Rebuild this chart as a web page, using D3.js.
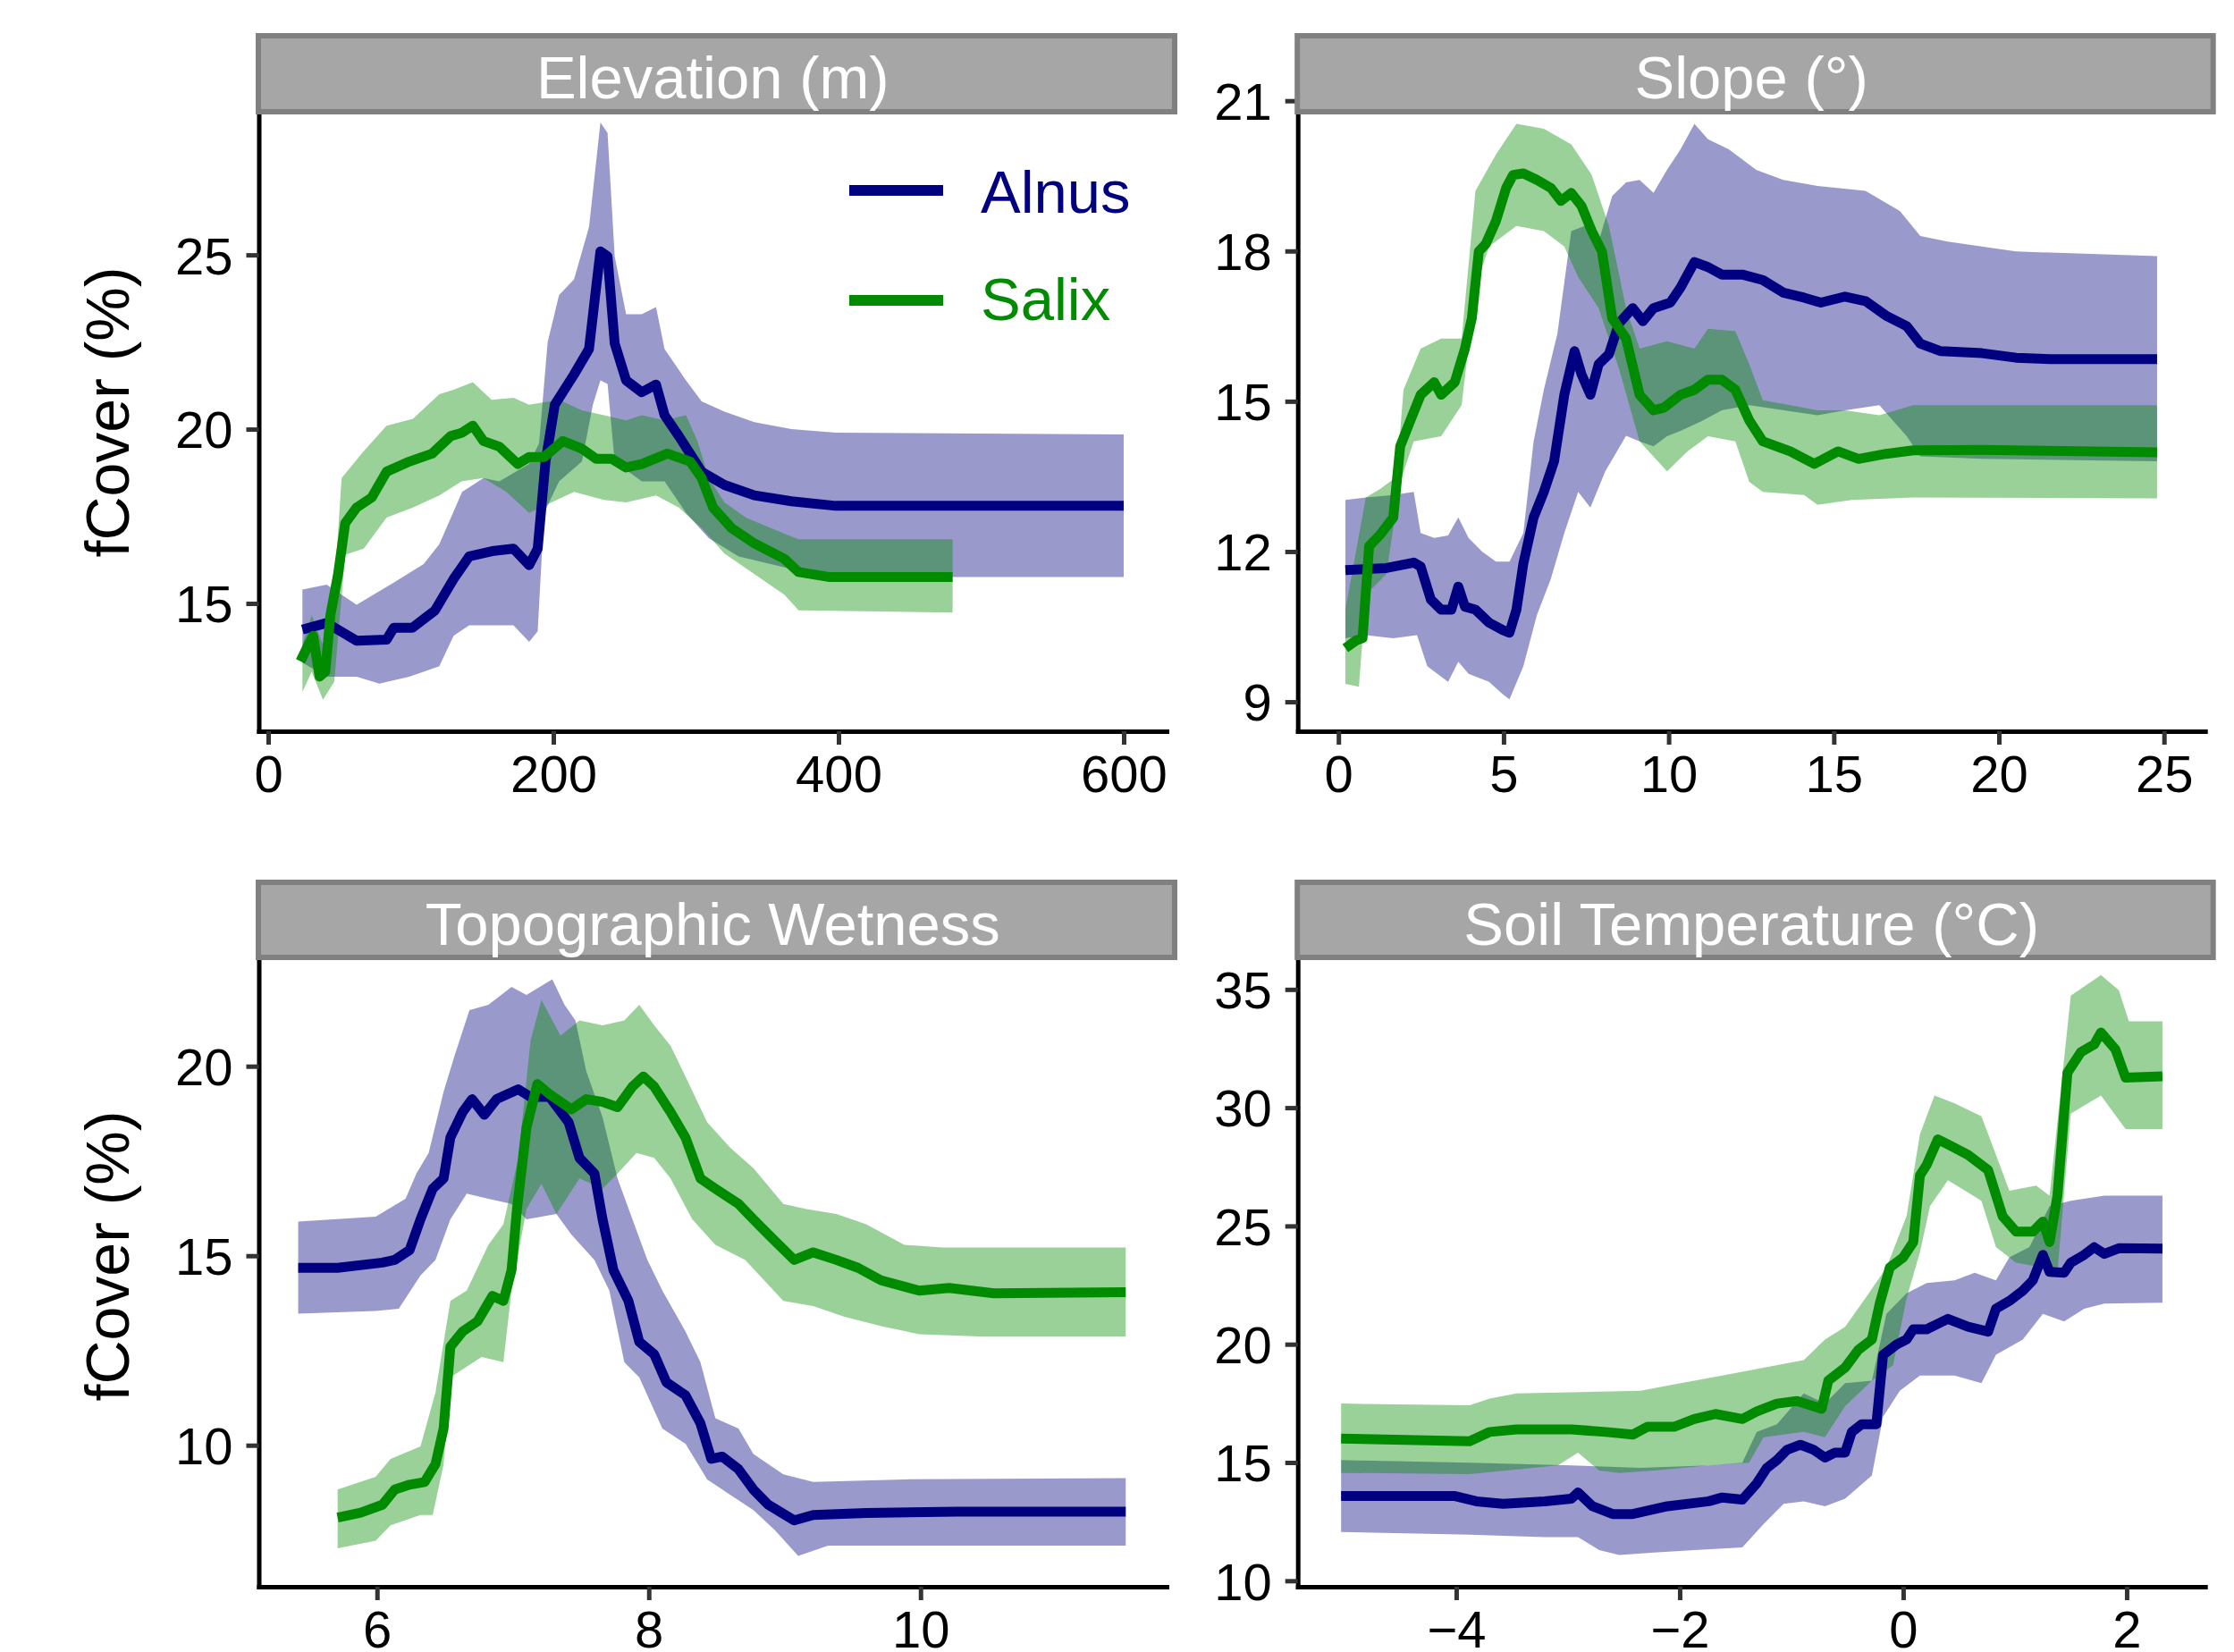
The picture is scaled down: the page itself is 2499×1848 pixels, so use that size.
<!DOCTYPE html>
<html>
<head>
<meta charset="utf-8">
<script src="https://cdn.jsdelivr.net/npm/d3@7"></script>
<style>
  body { margin: 0; background: #fff; }
  svg { display: block; }
  text { font-family: "Liberation Sans", Arial, Helvetica, sans-serif; }
</style>
</head>
<body>
<svg id="chart" width="2499" height="1848"></svg>
<script>
// ---- data: [x, fCover] pairs ----
// Elevation (m)
const elevAlnusMean = [[24,14.25],[41,14.44],[62,13.93],[83,13.96],[88,14.3],[101,14.3],[117,14.8],[130,15.7],[141,16.35],[157,16.5],[172,16.57],[183,16.1],[189,16.57],[194.5,19.07],[201,20.7],[214.5,21.57],[225,22.3],[230,24.07],[233,25.1],[238,24.96],[243,22.46],[251,21.4],[262,21.06],[272,21.28],[278,20.4],[288,19.8],[304,18.78],[320,18.4],[341,18.1],[367,17.93],[398,17.8],[600,17.8]];
const elevAlnusHi = [[24,15.4],[41,15.54],[62,14.96],[88,15.6],[109,16.13],[120,16.7],[136,18.2],[151,18.6],[162,18.5],[183,19.0],[190,19.6],[196,22.5],[204,23.85],[214.5,24.3],[225,25.8],[233,28.8],[238,28.5],[243,24.96],[251,23.3],[262,23.3],[272,23.5],[278,22.3],[293,21.4],[304,20.8],[320,20.5],[341,20.2],[367,20.0],[398,19.9],[600,19.85]];
const elevAlnusLo = [[24,13.3],[41,12.9],[62,12.9],[78,12.7],[99,12.9],[120,13.2],[130,14.07],[141,14.37],[172,14.37],[183,13.9],[189,14.2],[193.5,17.6],[204,18.5],[220,19.07],[227.7,20.7],[233,21.4],[238,21.3],[243,19.07],[262,18.5],[278,18.5],[293,17.6],[309,16.87],[330,16.35],[367,15.99],[398,15.76],[600,15.76]];
const elevSalixMean = [[22.6,13.34],[28,13.8],[31.5,14.07],[36,12.9],[40,13.04],[43.6,14.66],[49,15.84],[54,17.3],[62,17.75],[72.6,18.04],[83,18.78],[99,19.07],[115,19.3],[128,19.8],[136,19.9],[143.5,20.1],[151,19.66],[162,19.5],[175,19.0],[183,19.2],[193.5,19.2],[206.6,19.66],[220,19.44],[230,19.15],[241,19.15],[251,18.9],[262,19.0],[280,19.3],[296,19.07],[304,18.6],[312,17.75],[325,17.16],[341,16.72],[362,16.28],[372,15.9],[393,15.76],[480,15.76]];
const elevSalixHi = [[24,13.8],[30.5,14.66],[38.4,13.8],[46.3,15.4],[51.5,18.6],[67,19.37],[83,20.1],[101.5,20.3],[120,21.0],[130,21.13],[143.5,21.35],[156.7,20.84],[172,20.9],[183,20.7],[204,20.84],[220,20.54],[235.5,20.4],[251,20.25],[262,20.4],[278,20.25],[293,20.4],[301,19.66],[309,18.6],[320,17.9],[335,17.46],[362,17.0],[372,16.84],[480,16.84]];
const elevSalixLo = [[24,12.46],[30.5,13.04],[38.4,12.24],[46.3,12.75],[54,16.4],[67,16.57],[83,17.46],[101.5,17.75],[120,18.1],[135.6,18.5],[151,18.6],[167,18.2],[183,17.6],[198.7,17.9],[214.5,18.2],[235.5,17.97],[251,17.9],[272,18.1],[288,17.75],[304,17.16],[320,16.43],[341,15.84],[362,15.25],[372,14.8],[480,14.74]];

// Slope (°)
const slopeAlnusMean = [[0.21,11.63],[1.45,11.67],[2.28,11.78],[2.49,11.7],[2.8,11.04],[3.11,10.84],[3.42,10.84],[3.63,11.3],[3.83,10.9],[4.15,10.84],[4.56,10.58],[4.98,10.43],[5.18,10.38],[5.39,10.84],[5.6,11.76],[5.91,12.68],[6.22,13.19],[6.53,13.8],[6.84,15.13],[7.15,16.0],[7.36,15.54],[7.63,15.13],[7.88,15.74],[8.19,15.94],[8.5,16.56],[8.91,16.86],[9.22,16.6],[9.54,16.86],[10.05,16.97],[10.36,17.27],[10.78,17.78],[11.19,17.68],[11.61,17.53],[12.23,17.53],[12.85,17.42],[13.47,17.17],[14.1,17.07],[14.61,16.97],[15.34,17.09],[15.96,17.0],[16.58,16.71],[17.21,16.5],[17.62,16.15],[18.24,16.0],[19.49,15.96],[20.52,15.87],[21.56,15.84],[24.79,15.84]];
const slopeAlnusHi = [[0.21,13.03],[0.83,13.08],[1.66,13.13],[2.28,13.19],[2.49,12.37],[2.9,12.27],[3.32,12.32],[3.63,12.68],[3.94,12.27],[4.35,12.0],[4.77,11.8],[5.18,11.8],[5.6,12.37],[5.91,14.2],[6.22,15.23],[6.63,16.35],[7.05,18.4],[7.46,18.5],[7.88,18.19],[8.29,19.1],[8.71,19.37],[9.12,19.42],[9.54,19.16],[9.95,19.62],[10.36,20.03],[10.78,20.54],[11.19,20.23],[11.82,20.03],[12.65,19.62],[13.47,19.42],[14.51,19.3],[15.96,19.2],[17.0,18.8],[17.62,18.3],[18.45,18.19],[20.52,17.99],[24.79,17.9]];
const slopeAlnusLo = [[0.21,10.27],[0.83,10.33],[1.66,10.27],[2.38,10.33],[2.69,9.71],[3.32,9.4],[3.63,9.8],[3.94,9.56],[4.56,9.4],[4.98,9.15],[5.18,9.05],[5.6,9.71],[6.01,10.73],[6.43,11.45],[6.84,12.37],[7.26,13.19],[7.63,12.88],[8.08,13.6],[8.71,14.31],[9.12,14.2],[9.54,14.1],[9.95,14.3],[10.36,14.41],[10.99,14.6],[11.61,14.82],[12.44,14.92],[14.51,14.72],[15.34,14.82],[16.38,14.92],[17.21,14.3],[17.62,13.9],[19.49,13.85],[24.79,13.8]];
const slopeSalixMean = [[0.21,10.07],[0.52,10.22],[0.73,10.27],[0.93,12.11],[1.24,12.32],[1.66,12.68],[1.87,14.1],[2.18,14.62],[2.49,15.13],[2.9,15.38],[3.11,15.13],[3.52,15.38],[3.83,16.05],[4.04,16.66],[4.25,17.99],[4.46,18.14],[4.77,18.6],[5.08,19.26],[5.29,19.52],[5.6,19.55],[6.01,19.42],[6.43,19.26],[6.74,19.0],[7.05,19.16],[7.36,18.9],[7.67,18.4],[7.98,17.99],[8.29,16.66],[8.71,16.25],[9.12,15.13],[9.54,14.82],[9.85,14.87],[10.36,15.13],[10.78,15.23],[11.19,15.43],[11.61,15.43],[12.02,15.23],[12.44,14.62],[12.85,14.2],[13.68,14.0],[14.41,13.75],[15.13,14.0],[15.75,13.85],[16.58,13.95],[17.41,14.02],[19.49,14.03],[24.79,13.98]];
const slopeSalixHi = [[0.21,10.84],[0.83,13.08],[1.24,13.24],[1.76,13.49],[1.97,15.23],[2.49,16.05],[3.11,16.25],[3.73,16.25],[4.15,19.2],[4.77,19.93],[5.39,20.54],[6.22,20.44],[7.05,20.13],[7.67,19.52],[8.19,18.5],[8.71,16.86],[9.12,16.05],[9.95,16.2],[10.78,16.05],[11.19,16.45],[12.02,16.4],[12.44,15.74],[12.85,15.02],[13.68,14.92],[14.51,14.82],[15.34,14.82],[16.38,14.72],[17.41,14.92],[24.79,14.92]];
const slopeSalixLo = [[0.21,9.36],[0.62,9.3],[0.83,11.14],[1.45,11.55],[1.87,13.39],[2.28,14.2],[3.11,14.3],[3.73,14.92],[4.15,17.27],[4.56,18.09],[5.39,18.5],[6.22,18.4],[6.84,18.09],[7.26,17.48],[7.88,16.86],[8.5,15.64],[9.12,14.2],[9.95,13.6],[10.57,14.0],[11.19,14.3],[12.02,14.2],[12.44,13.39],[12.85,13.19],[14.1,13.13],[14.51,12.93],[15.55,13.03],[17.41,13.08],[24.79,13.06]];

// Topographic Wetness
const twAlnusMean = [[5.42,14.68],[5.71,14.68],[6.04,14.82],[6.13,14.89],[6.24,15.15],[6.32,15.96],[6.41,16.77],[6.49,17.04],[6.54,18.12],[6.63,18.79],[6.7,19.13],[6.79,18.72],[6.88,19.13],[7.04,19.39],[7.13,19.19],[7.27,19.19],[7.41,18.52],[7.49,17.58],[7.6,17.17],[7.66,15.96],[7.74,14.62],[7.85,13.81],[7.93,12.73],[8.04,12.4],[8.13,11.66],[8.27,11.32],[8.38,10.58],[8.46,9.64],[8.54,9.7],[8.66,9.37],[8.77,8.83],[8.88,8.43],[9.07,8.02],[9.21,8.16],[9.6,8.21],[10.27,8.25],[11.51,8.25]];
const twAlnusHi = [[5.42,15.9],[5.99,16.03],[6.21,16.5],[6.29,17.17],[6.38,17.71],[6.49,19.33],[6.57,20.27],[6.68,21.48],[6.82,21.62],[6.99,22.09],[7.1,21.88],[7.29,22.29],[7.38,21.62],[7.46,21.21],[7.54,19.87],[7.66,18.65],[7.77,17.04],[7.88,15.96],[7.99,14.89],[8.1,14.08],[8.27,13.0],[8.38,12.19],[8.49,10.71],[8.66,10.44],[8.77,9.77],[8.99,9.23],[9.21,9.03],[9.88,9.1],[11.51,9.13]];
const twAlnusLo = [[5.42,13.47],[5.99,13.54],[6.16,13.6],[6.32,14.48],[6.43,14.89],[6.54,15.96],[6.66,16.64],[6.82,16.5],[6.99,16.37],[7.1,15.96],[7.32,16.1],[7.43,15.56],[7.6,14.89],[7.71,14.08],[7.82,12.19],[7.93,11.79],[8.1,10.44],[8.27,10.04],[8.43,9.1],[8.6,8.69],[8.77,8.29],[8.93,7.75],[9.1,7.08],[9.32,7.35],[9.88,7.35],[11.51,7.35]];
const twSalixMean = [[5.71,8.09],[5.88,8.22],[6.04,8.43],[6.13,8.83],[6.24,8.96],[6.35,9.03],[6.43,9.5],[6.49,10.44],[6.54,12.6],[6.63,13.0],[6.74,13.27],[6.85,13.94],[6.93,13.81],[6.99,14.62],[7.03,16.23],[7.1,18.38],[7.18,19.53],[7.27,19.26],[7.35,19.06],[7.43,18.86],[7.54,19.13],[7.66,19.06],[7.77,18.92],[7.88,19.46],[7.96,19.73],[8.04,19.46],[8.16,18.79],[8.27,18.12],[8.38,17.04],[8.49,16.77],[8.66,16.37],[8.77,15.96],[8.88,15.56],[9.07,14.89],[9.21,15.09],[9.38,14.89],[9.54,14.68],[9.71,14.35],[9.99,14.08],[10.21,14.15],[10.54,14.01],[11.51,14.04]];
const twSalixHi = [[5.71,8.83],[5.99,9.17],[6.1,9.64],[6.32,9.97],[6.43,11.39],[6.54,13.81],[6.66,14.08],[6.82,15.29],[6.93,15.83],[7.04,17.58],[7.13,20.67],[7.21,21.75],[7.35,20.81],[7.49,21.21],[7.66,21.08],[7.82,21.21],[7.93,21.62],[8.04,21.08],[8.16,20.54],[8.27,19.73],[8.43,18.52],[8.6,17.85],[8.77,17.31],[8.99,16.37],[9.16,16.23],[9.38,16.1],[9.6,15.83],[9.88,15.29],[10.16,15.22],[11.51,15.22]];
const twSalixLo = [[5.71,7.28],[5.99,7.48],[6.1,7.89],[6.32,8.16],[6.41,8.16],[6.49,9.5],[6.54,11.79],[6.77,12.33],[6.93,12.19],[6.99,14.08],[7.1,16.23],[7.21,16.9],[7.32,16.1],[7.49,17.04],[7.66,16.77],[7.77,17.17],[7.91,17.71],[8.04,17.58],[8.16,17.04],[8.32,15.96],[8.49,15.29],[8.71,14.89],[8.99,13.81],[9.21,13.67],[9.43,13.4],[9.71,13.14],[9.99,12.93],[10.43,12.87],[11.51,12.87]];

// Soil Temperature (°C)
const stAlnusMean = [[-5.03,13.58],[-4.01,13.58],[-3.82,13.36],[-3.58,13.25],[-3.21,13.36],[-2.97,13.47],[-2.91,13.73],[-2.78,13.15],[-2.6,12.82],[-2.42,12.82],[-2.11,13.15],[-1.74,13.36],[-1.62,13.52],[-1.44,13.43],[-1.31,14.12],[-1.22,14.77],[-1.13,15.1],[-1.04,15.53],[-0.92,15.75],[-0.8,15.53],[-0.7,15.21],[-0.61,15.42],[-0.52,15.42],[-0.46,16.29],[-0.37,16.62],[-0.24,16.62],[-0.18,19.55],[-0.06,19.98],[0.03,20.2],[0.09,20.63],[0.21,20.63],[0.4,21.07],[0.58,20.74],[0.76,20.53],[0.83,21.5],[0.95,21.83],[1.07,22.26],[1.16,22.7],[1.25,23.78],[1.31,23.06],[1.44,23.02],[1.5,23.45],[1.62,23.78],[1.71,24.1],[1.8,23.82],[1.93,24.06],[2.32,24.04]];
const stAlnusHi = [[-5.03,15.1],[-3.88,14.99],[-2.97,14.88],[-2.35,14.77],[-1.74,14.88],[-1.44,14.99],[-1.31,16.29],[-1.13,16.62],[-0.89,17.92],[-0.7,17.49],[-0.52,18.35],[-0.28,18.46],[-0.15,21.28],[0.03,22.15],[0.21,22.59],[0.46,22.7],[0.64,23.02],[0.83,22.7],[0.95,23.67],[1.13,24.11],[1.31,25.84],[1.5,26.06],[1.8,26.28],[2.32,26.28]];
const stAlnusLo = [[-5.03,12.06],[-3.88,11.95],[-3.21,11.84],[-2.91,11.84],[-2.72,11.3],[-2.54,11.09],[-2.23,11.19],[-1.87,11.3],[-1.44,11.41],[-1.25,12.39],[-1.07,13.25],[-0.89,13.36],[-0.7,13.15],[-0.52,13.47],[-0.28,14.45],[-0.18,16.94],[-0.03,18.03],[0.15,18.68],[0.46,18.68],[0.7,18.35],[0.83,19.55],[1.07,20.2],[1.25,21.28],[1.44,20.96],[1.62,21.5],[1.8,21.72],[2.32,21.76]];
const stSalixMean = [[-5.03,16.01],[-3.88,15.9],[-3.7,16.29],[-3.46,16.4],[-2.97,16.4],[-2.66,16.29],[-2.42,16.18],[-2.29,16.51],[-2.05,16.51],[-1.87,16.84],[-1.68,17.05],[-1.44,16.84],[-1.31,17.16],[-1.13,17.49],[-0.95,17.6],[-0.73,17.27],[-0.67,18.46],[-0.52,19.01],[-0.4,19.77],[-0.28,20.2],[-0.21,21.72],[-0.12,23.24],[0,23.67],[0.09,24.32],[0.15,27.14],[0.21,27.58],[0.31,28.66],[0.4,28.45],[0.58,28.01],[0.76,27.36],[0.89,25.41],[1.01,24.76],[1.16,24.76],[1.25,25.19],[1.31,24.32],[1.38,26.28],[1.47,31.48],[1.59,32.35],[1.71,32.68],[1.77,33.18],[1.9,32.46],[1.99,31.27],[2.32,31.33]];
const stSalixHi = [[-5.03,17.49],[-3.88,17.42],[-3.7,17.7],[-3.46,17.92],[-2.35,18.03],[-1.99,18.35],[-1.62,18.68],[-1.25,19.01],[-0.89,19.33],[-0.7,20.2],[-0.52,20.74],[-0.34,21.94],[-0.15,23.24],[0.03,25.41],[0.15,28.88],[0.28,30.51],[0.46,30.18],[0.7,29.64],[0.83,28.01],[0.95,26.49],[1.19,26.71],[1.31,26.28],[1.5,34.74],[1.77,35.61],[1.93,34.96],[2.02,33.65],[2.32,33.65]];
const stSalixLo = [[-5.03,14.56],[-3.88,14.51],[-3.09,14.88],[-2.91,15.42],[-2.72,14.66],[-2.54,14.56],[-2.23,14.66],[-1.74,14.88],[-1.38,14.99],[-1.25,16.07],[-0.89,16.29],[-0.7,16.07],[-0.52,17.38],[-0.28,18.46],[-0.09,19.12],[0.03,21.94],[0.15,23.89],[0.24,25.84],[0.4,26.93],[0.7,26.06],[0.83,24.11],[1.01,23.45],[1.25,23.24],[1.38,23.02],[1.5,29.75],[1.77,30.51],[1.99,29.1],[2.32,29.1]];

// tick labels
const elevXTicks = [0, 200, 400, 600], elevYTicks = [15, 20, 25];
const slopeXTicks = [0, 5, 10, 15, 20, 25], slopeYTicks = [9, 12, 15, 18, 21];
const twXTicks = [6, 8, 10], twYTicks = [10, 15, 20];
const stXTicks = [-4, -2, 0, 2], stYTicks = [10, 15, 20, 25, 30, 35];

const species = ['Alnus', 'Salix'];
const colors = { Alnus: '#000080', Salix: '#008B00' };

// panel geometry (px) – columns and rows of the 2x2 grid
const cols = [{ left: 289.5, right: 1305 }, { left: 1451.7, right: 2466.7 }];
const rows = [
  { stripTop: 37, top: 128, bottom: 818, titleY: 461 },
  { stripTop: 984, top: 1074, bottom: 1775, titleY: 1405 },
];

const panels = [
  { title: 'Elevation (m)', col: 0, row: 0, xDomain: [-6.6, 630.1], yDomain: [11.333, 29.03],
    xTicks: elevXTicks, yTicks: elevYTicks, yTitle: true, legend: true,
    data: { Alnus: [elevAlnusMean, elevAlnusLo, elevAlnusHi], Salix: [elevSalixMean, elevSalixLo, elevSalixHi] } },
  { title: 'Slope (°)', col: 1, row: 0, xDomain: [-1.232, 26.245], yDomain: [8.412, 20.727],
    xTicks: slopeXTicks, yTicks: slopeYTicks,
    data: { Alnus: [slopeAlnusMean, slopeAlnusLo, slopeAlnusHi], Salix: [slopeSalixMean, slopeSalixLo, slopeSalixHi] } },
  { title: 'Topographic Wetness', col: 0, row: 1, xDomain: [5.130, 11.811], yDomain: [6.267, 22.80],
    xTicks: twXTicks, yTicks: twYTicks, yTitle: true,
    data: { Alnus: [twAlnusMean, twAlnusLo, twAlnusHi], Salix: [twSalixMean, twSalixLo, twSalixHi] } },
  { title: 'Soil Temperature (°C)', col: 1, row: 1, xDomain: [-5.418, 2.702], yDomain: [9.747, 36.24],
    xTicks: stXTicks, yTicks: stYTicks,
    data: { Alnus: [stAlnusMean, stAlnusLo, stAlnusHi], Salix: [stSalixMean, stSalixLo, stSalixHi] } },
];

const svg = d3.select('#chart');
const fmt = d => (d < 0 ? '\u2212' + Math.abs(d) : String(d));

panels.forEach(p => {
  const c = cols[p.col], r = rows[p.row];
  const x = d3.scaleLinear().domain(p.xDomain).range([c.left, c.right]);
  const y = d3.scaleLinear().domain(p.yDomain).range([r.bottom, r.top]);
  const g = svg.append('g');

  const line = d3.line().x(d => x(d[0])).y(d => y(d[1]));

  // ribbons first (Alnus under Salix), then lines
  species.forEach(s => {
    const [, lo, hi] = p.data[s];
    g.append('path')
      .attr('d', line(hi.concat(lo.slice().reverse())) + 'Z')
      .attr('fill', colors[s])
      .attr('fill-opacity', 0.4);
  });
  species.forEach(s => {
    g.append('path')
      .datum(p.data[s][0])
      .attr('d', line)
      .attr('fill', 'none')
      .attr('stroke', colors[s])
      .attr('stroke-width', 11)
      .attr('stroke-linejoin', 'round');
  });

  // axes
  const xAxis = g.append('g')
    .attr('transform', `translate(0,${r.bottom})`)
    .call(d3.axisBottom(x).tickValues(p.xTicks).tickFormat(fmt).tickSize(15).tickSizeOuter(0).tickPadding(12));
  const yAxis = g.append('g')
    .attr('transform', `translate(${c.left},0)`)
    .call(d3.axisLeft(y).tickValues(p.yTicks).tickFormat(fmt).tickSize(14).tickSizeOuter(0).tickPadding(15));

  [xAxis, yAxis].forEach(a => {
    a.select('.domain').attr('stroke', '#000').attr('stroke-width', 5).attr('stroke-linecap', 'square');
    a.selectAll('.tick line').attr('stroke', '#333333').attr('stroke-width', 5);
    a.selectAll('.tick text').attr('fill', '#000').attr('font-size', 58)
      .attr('font-family', '"Liberation Sans", Arial, Helvetica, sans-serif');
  });
  yAxis.selectAll('.tick text').attr('dy', '0.36em');

  // strip
  const sx = c.left - 3.5, sw = c.right + 12 - sx;
  g.append('rect')
    .attr('x', sx + 3).attr('y', r.stripTop + 3)
    .attr('width', sw - 6).attr('height', r.top - r.stripTop - 6)
    .attr('fill', '#a6a6a6').attr('stroke', '#808080').attr('stroke-width', 6);
  g.append('text')
    .attr('x', (c.left + c.right) / 2).attr('y', r.stripTop + 72.5)
    .attr('text-anchor', 'middle').attr('fill', '#fff').attr('font-size', 67)
    .text(p.title);

  if (p.yTitle) {
    g.append('text')
      .attr('transform', `translate(144,${r.titleY}) rotate(-90)`)
      .attr('text-anchor', 'middle').attr('font-size', 68).attr('fill', '#000')
      .text('fCover (%)');
  }

  if (p.legend) {
    const lg = g.append('g');
    species.forEach((s, i) => {
      const ly = 213 + i * 123;
      lg.append('line').attr('x1', 950).attr('x2', 1055).attr('y1', ly).attr('y2', ly)
        .attr('stroke', colors[s]).attr('stroke-width', 12);
      lg.append('text').attr('x', 1097).attr('y', ly + 25 - i * 3)
        .attr('font-size', 67).attr('fill', colors[s]).text(s);
    });
  }
});
</script>
</body>
</html>
